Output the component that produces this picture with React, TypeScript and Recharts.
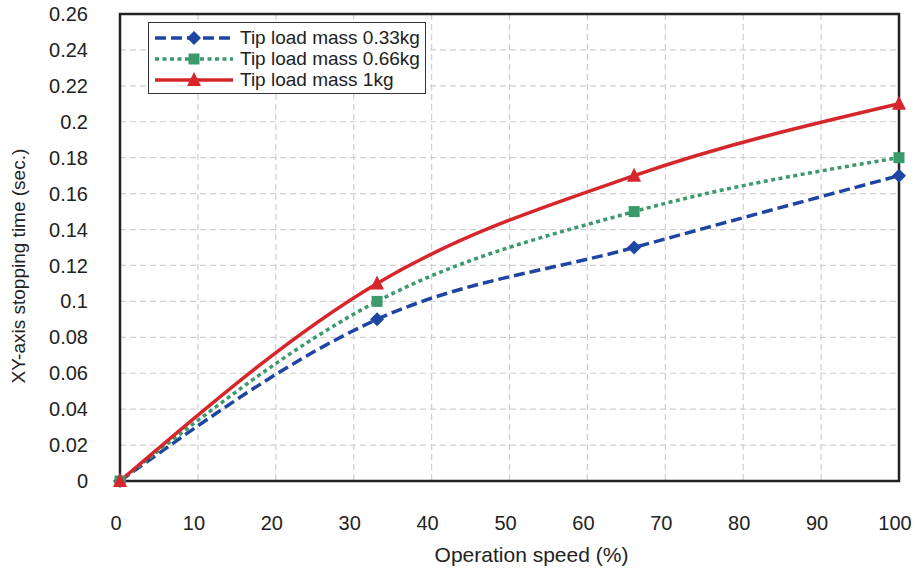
import React from "react";
import {
  LineChart,
  Line,
  XAxis,
  YAxis,
  CartesianGrid,
  ReferenceArea,
} from "recharts";

const speeds = [0, 33, 66, 100];
const mass033 = [0, 0.09, 0.13, 0.17];
const mass066 = [0, 0.1, 0.15, 0.18];
const mass1 = [0, 0.11, 0.17, 0.21];

const xTicks = [0, 10, 20, 30, 40, 50, 60, 70, 80, 90, 100];
const yTicks = [0, 0.02, 0.04, 0.06, 0.08, 0.1, 0.12, 0.14, 0.16, 0.18, 0.2, 0.22, 0.24, 0.26];

const seriesNames = ["Tip load mass 0.33kg", "Tip load mass 0.66kg", "Tip load mass 1kg"];

const data = speeds.map((s, i) => ({
  speed: s,
  m033: mass033[i],
  m066: mass066[i],
  m1: mass1[i],
}));

const BLUE = "#1f45a3";
const GREEN = "#3b9a6b";
const RED = "#d6262b";
const FONT = "'Liberation Sans', Arial, Helvetica, sans-serif";

const Diamond = (props: any) => {
  const { cx, cy } = props;
  if (cx == null || cy == null) return null;
  const r = 7;
  return (
    <path
      d={`M${cx},${cy - r} L${cx + r},${cy} L${cx},${cy + r} L${cx - r},${cy} Z`}
      fill={BLUE}
    />
  );
};

const Square = (props: any) => {
  const { cx, cy } = props;
  if (cx == null || cy == null) return null;
  const r = 5.5;
  return <rect x={cx - r} y={cy - r} width={2 * r} height={2 * r} fill={GREEN} />;
};

const Triangle = (props: any) => {
  const { cx, cy } = props;
  if (cx == null || cy == null) return null;
  const r = 7;
  return (
    <path
      d={`M${cx},${cy - r - 1} L${cx + r},${cy + r - 1} L${cx - r},${cy + r - 1} Z`}
      fill={RED}
    />
  );
};

const legendItems = [
  { name: seriesNames[0], color: BLUE, dash: "11 5", marker: "diamond" },
  { name: seriesNames[1], color: GREEN, dash: "4 3.5", marker: "square" },
  { name: seriesNames[2], color: RED, dash: undefined, marker: "triangle" },
];

const CustomLegend = () => (
  <div
    style={{
      position: "absolute",
      left: 148,
      top: 22,
      width: 278,
      height: 72,
      border: "1.5px solid #333",
      background: "#fff",
      boxSizing: "border-box",
      fontFamily: FONT,
      fontSize: 19,
      color: "#222",
    }}
  >
    {legendItems.map((it, i) => (
      <div
        key={it.name}
        style={{
          position: "absolute",
          left: 4,
          top: 4 + i * 21,
          height: 21,
          display: "flex",
          alignItems: "center",
          whiteSpace: "nowrap",
        }}
      >
        <svg width={82} height={20} style={{ display: "block" }}>
          <line
            x1={2}
            x2={80}
            y1={10}
            y2={10}
            stroke={it.color}
            strokeWidth={3.5}
            strokeDasharray={it.dash}
          />
          {it.marker === "diamond" && <Diamond cx={41} cy={10} />}
          {it.marker === "square" && <Square cx={41} cy={10} />}
          {it.marker === "triangle" && <Triangle cx={41} cy={10} />}
        </svg>
        <span style={{ marginLeft: 5 }}>{it.name}</span>
      </div>
    ))}
  </div>
);

export default function App() {
  return (
    <div
      style={{
        position: "absolute",
        left: 0,
        top: 0,
        width: 918,
        height: 572,
        background: "#fff",
        fontFamily: FONT,
      }}
    >
      <LineChart
        width={918}
        height={572}
        data={data}
        margin={{ top: 14, right: 19, bottom: 0, left: 0 }}
      >
        <CartesianGrid stroke="#cfcfcf" strokeDasharray="6 4" strokeWidth={1.2} />
        <XAxis
          dataKey="speed"
          type="number"
          domain={[0, 100]}
          ticks={xTicks}
          interval={0}
          height={91}
          tickLine={false}
          tickSize={0}
          tickMargin={35}
          axisLine={false}
          tick={{ fill: "#222", fontSize: 20, fontFamily: FONT, dx: -4 }}
          label={{
            value: "Operation speed (%)",
            position: "insideBottom",
            offset: 10,
            dx: 22,
            fill: "#222",
            fontSize: 21,
            fontFamily: FONT,
          }}
        />
        <YAxis
          type="number"
          domain={[0, 0.26]}
          ticks={yTicks}
          interval={0}
          width={120}
          tickLine={false}
          tickSize={0}
          tickMargin={32}
          axisLine={false}
          tick={{ fill: "#222", fontSize: 20, fontFamily: FONT }}
          label={{
            value: "XY-axis stopping time (sec.)",
            angle: -90,
            position: "insideLeft",
            offset: 18,
            dy: 136,
            fill: "#222",
            fontSize: 19,
            fontFamily: FONT,
          }}
        />
        <ReferenceArea
          x1={0}
          x2={100}
          y1={0}
          y2={0.26}
          fill="none"
          stroke="#222"
          strokeWidth={2.5}
          ifOverflow="visible"
        />
        <Line
          type="monotone"
          dataKey="m033"
          name={seriesNames[0]}
          stroke={BLUE}
          strokeWidth={3.5}
          strokeDasharray="11 5"
          dot={<Diamond />}
          activeDot={false}
          isAnimationActive={false}
        />
        <Line
          type="monotone"
          dataKey="m066"
          name={seriesNames[1]}
          stroke={GREEN}
          strokeWidth={3.5}
          strokeDasharray="4 3.5"
          dot={<Square />}
          activeDot={false}
          isAnimationActive={false}
        />
        <Line
          type="monotone"
          dataKey="m1"
          name={seriesNames[2]}
          stroke={RED}
          strokeWidth={3.5}
          dot={<Triangle />}
          activeDot={false}
          isAnimationActive={false}
        />
      </LineChart>
      <CustomLegend />
    </div>
  );
}
